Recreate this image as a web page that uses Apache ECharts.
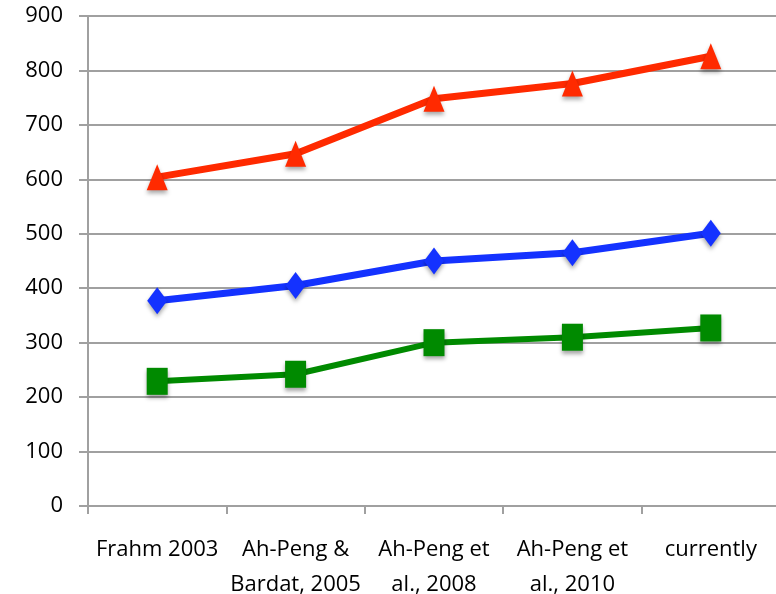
<!DOCTYPE html>
<html>
<head>
<meta charset="utf-8">
<script src="https://cdn.jsdelivr.net/npm/echarts@6/dist/echarts.min.js"></script>
<style>
  html, body { margin: 0; padding: 0; background: #fff; }
  #chart { width: 776px; height: 594px; }
</style>
</head>
<body>
<div id="chart"></div>
<script>
// Publications / study milestones along the x axis
const categories = [
  'Frahm 2003',
  'Ah-Peng &\nBardat, 2005',
  'Ah-Peng et\nal., 2008',
  'Ah-Peng et\nal., 2010',
  'currently'
];

// Counts reported at each milestone
const redValues = [604, 647, 748, 776, 826];
const blueValues = [377, 405, 450, 465, 501];
const greenValues = [229, 242, 300, 310, 327];

const yMin = 0;
const yMax = 900;
const yStep = 100;

const fontFamily = '"Open Sans", "Liberation Sans", sans-serif';
const gridColor = '#a0a0a0';

const markerShadow = {
  shadowColor: 'rgba(0,0,0,0.35)',
  shadowBlur: 4,
  shadowOffsetY: 3
};

function lineSeries(values, color, symbol, size, width) {
  return {
    type: 'line',
    data: values,
    symbol: symbol,
    symbolSize: size,
    showAllSymbol: true,
    animation: false,
    lineStyle: { color: color, width: width },
    itemStyle: Object.assign({ color: color, borderWidth: 0 }, markerShadow),
    emphasis: { disabled: true },
    z: 3
  };
}

const chart = echarts.init(document.getElementById('chart'), null, { renderer: 'canvas' });

chart.setOption({
  backgroundColor: '#ffffff',
  animation: false,
  grid: {
    left: 88, top: 16, width: 692, height: 490,
    containLabel: false,
    outerBoundsMode: 'none'
  },
  xAxis: {
    type: 'category',
    data: categories,
    boundaryGap: true,
    axisLine: { show: true, lineStyle: { color: gridColor, width: 2 } },
    axisTick: { show: true, length: 8, alignWithLabel: false, lineStyle: { color: gridColor, width: 2 } },
    axisLabel: {
      interval: 0,
      margin: 26,
      color: '#000',
      fontFamily: fontFamily,
      fontSize: 22,
      lineHeight: 35,
      align: 'center'
    },
    splitLine: { show: false }
  },
  yAxis: {
    type: 'value',
    min: yMin,
    max: yMax,
    interval: yStep,
    axisLine: { show: true, lineStyle: { color: gridColor, width: 2 } },
    axisTick: { show: true, length: 9, lineStyle: { color: gridColor, width: 2 } },
    axisLabel: {
      margin: 25,
      color: '#000',
      fontFamily: fontFamily,
      fontSize: 22
    },
    splitLine: { show: true, lineStyle: { color: gridColor, width: 2 } }
  },
  series: [
    lineSeries(greenValues, '#008a00', 'rect', [21, 27], 6),
    lineSeries(blueValues, '#1432ff', 'diamond', [20, 27], 7),
    lineSeries(redValues, '#ff2a00', 'triangle', [21, 26], 7)
  ]
});
</script>
</body>
</html>
